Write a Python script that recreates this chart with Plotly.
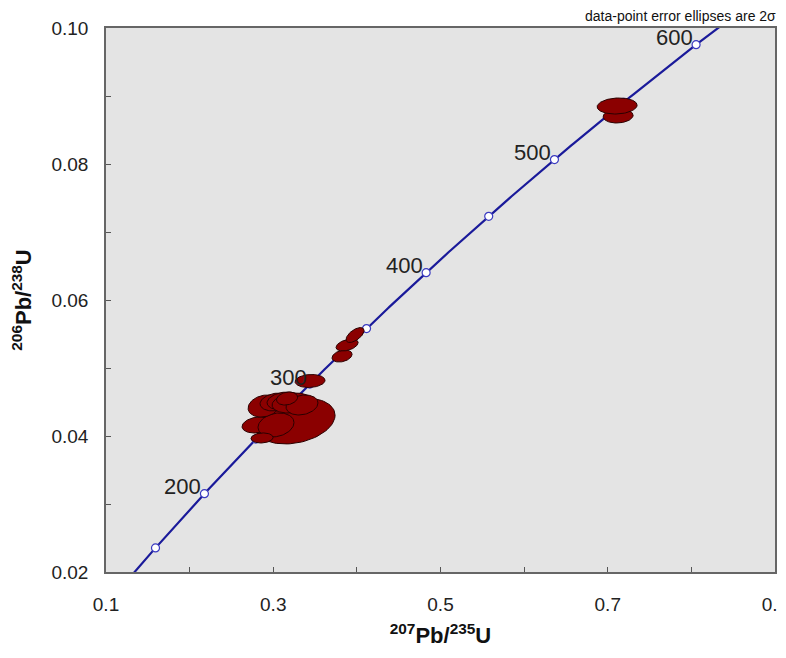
import numpy as np
import plotly.graph_objects as go

# ---- data ----
# decay constants (per year) used by the concordia curve
LAMBDA_238 = 1.55125e-10
LAMBDA_235 = 9.8485e-10
marker_ages_ma = [150, 200, 250, 300, 350, 400, 450, 500, 550, 600]
label_ages_ma = [200, 300, 400, 500, 600]

# analyses: 207Pb/235U, 206Pb/238U, 2-sigma half extents, error correlation
ell_x = [0.3261, 0.2806, 0.3033, 0.2866, 0.2890, 0.3033, 0.3129, 0.3225, 0.3344, 0.3165,
         0.3440, 0.3823, 0.3883, 0.3978, 0.7124, 0.7112]
ell_y = [0.04221, 0.04162, 0.04162, 0.03971, 0.04441, 0.04500, 0.04515, 0.04485, 0.04456, 0.04551,
         0.04809, 0.05176, 0.05338, 0.05485, 0.08706, 0.08853]
ell_sx = [0.0478, 0.0179, 0.0215, 0.0132, 0.0191, 0.0191, 0.0203, 0.0239, 0.0191, 0.0126,
          0.0179, 0.0120, 0.0132, 0.0108, 0.0179, 0.0239]
ell_sy = [0.00338, 0.00118, 0.00176, 0.00074, 0.00162, 0.00132, 0.00132, 0.00147, 0.00147, 0.00096,
          0.00096, 0.00088, 0.00088, 0.00110, 0.00103, 0.00118]
ell_rho = [0.25, 0.2, 0.2, 0.1, 0.2, 0.2, 0.2, 0.2, 0.2, 0.2,
           0.1, 0.3, 0.4, 0.6, 0.1, 0.1]

x_tick_vals = [0.1, 0.3, 0.5, 0.7, 0.9]
x_tick_text = ["0.1", "0.3", "0.5", "0.7", "0.9"]
y_tick_vals = [0.02, 0.04, 0.06, 0.08, 0.10]
y_tick_text = ["0.02", "0.04", "0.06", "0.08", "0.10"]

FONT = "Liberation Sans, Arial"


def concordia(age_ma):
    t = np.asarray(age_ma, dtype=float) * 1e6
    return np.exp(LAMBDA_235 * t) - 1, np.exp(LAMBDA_238 * t) - 1


fig = go.Figure()

# concordia curve
curve_ages = np.linspace(100, 660, 400)
cx, cy = concordia(curve_ages)
fig.add_trace(go.Scatter(x=cx, y=cy, mode="lines",
                         line=dict(color="#1a1a9a", width=2.2), hoverinfo="skip",
                         showlegend=False))
mx, my = concordia(marker_ages_ma)
fig.add_trace(go.Scatter(x=mx, y=my, mode="markers",
                         marker=dict(color="white", size=8,
                                     line=dict(color="#3a3ac0", width=1.2)),
                         showlegend=False, hoverinfo="skip"))

# error ellipses
tt = np.linspace(0, 2 * np.pi, 90)
for x0, y0, sx, sy, r in zip(ell_x, ell_y, ell_sx, ell_sy, ell_rho):
    ex = x0 + sx * np.cos(tt)
    ey = y0 + sy * (r * np.cos(tt) + np.sqrt(1 - r * r) * np.sin(tt))
    fig.add_trace(go.Scatter(x=ex, y=ey, mode="lines", fill="toself",
                             fillcolor="#8b0000",
                             line=dict(color="#2a0000", width=1),
                             showlegend=False, hoverinfo="skip"))

# age labels
lx, ly = concordia(label_ages_ma)
for a, x0, y0 in zip(label_ages_ma, lx, ly):
    fig.add_annotation(x=x0, y=y0, text=str(a), showarrow=False,
                       xanchor="right", yanchor="middle", xshift=-1, yshift=7,
                       font=dict(family=FONT, size=22, color="#222222"))

fig.add_annotation(x=1, y=1, xref="paper", yref="paper", text="data-point error ellipses are 2σ",
                   showarrow=False, xanchor="right", yanchor="bottom", xshift=3, yshift=2,
                   font=dict(family=FONT, size=14, color="#111111"))

axis_common = dict(showgrid=False, zeroline=False, showline=True, mirror=True,
                   linecolor="#666666", linewidth=1.5, ticks="inside", ticklen=5,
                   tickcolor="#555555", automargin=False, ticklabeloverflow="allow",
                   tickfont=dict(family=FONT, size=19, color="#222222"))

fig.update_xaxes(range=[0.1, 0.9], tickvals=x_tick_vals, ticktext=x_tick_text,
                 minor=dict(ticks="inside", dtick=0.1, ticklen=5, tickcolor="#555555"),
                 ticklabelstandoff=14,
                 title=dict(text="<b><sup>207</sup>Pb/<sup>235</sup>U</b>",
                            font=dict(family=FONT, size=22, color="#111111"),
                            standoff=14),
                 **axis_common)
fig.update_yaxes(range=[0.02, 0.10], tickvals=y_tick_vals, ticktext=y_tick_text,
                 minor=dict(ticks="inside", dtick=0.01, ticklen=5, tickcolor="#555555"),
                 ticklabelstandoff=12,
                 title=dict(text="<b><sup>206</sup>Pb/<sup>238</sup>U</b>",
                            font=dict(family=FONT, size=22, color="#111111"),
                            standoff=18),
                 **axis_common)

fig.update_layout(width=778, height=650, margin=dict(l=98, r=11, t=20, b=86),
                  plot_bgcolor="#e4e4e4", paper_bgcolor="white", showlegend=False)

fig.write_html("out.html")
